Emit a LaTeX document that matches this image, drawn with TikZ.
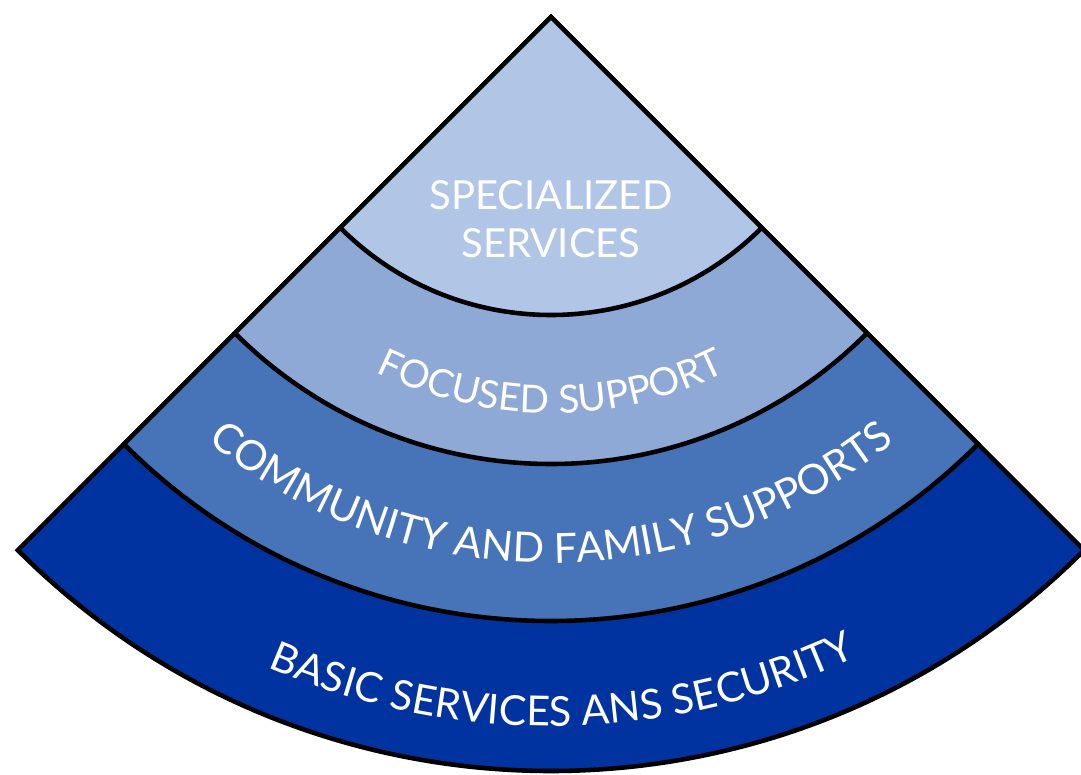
\documentclass[tikz,border=0pt]{standalone}
\usepackage{fontspec}
\setmainfont{Lato}
\usetikzlibrary{decorations.text}
\definecolor{bandspec}{HTML}{B1C5E6}
\definecolor{bandfocus}{HTML}{8EA9D6}
\definecolor{bandcomm}{HTML}{4774B9}
\definecolor{bandbasic}{HTML}{0033A0}
\tikzset{band/.style={draw=black,line width=2.6pt,line join=miter},
arclabel/.style={decorate,decoration={text along path,text align=center,text color=white}}}

\begin{document}
\begin{tikzpicture}[x=.02cm,y=.02cm]
\useasboundingbox (-551,-757) rectangle (530,17);
% nested sectors, largest first
\foreach \r/\col in {754/bandbasic,604/bandcomm,447/bandfocus,298/bandspec} {
\filldraw[band,fill=\col] (0,0)--(225:\r) arc[start angle=225,end angle=315,radius=\r]--cycle;}
\node[align=center,text=white,font=\fontsize{22.8}{27}\selectfont] (spec) at (0,-202) {SPECIALIZED\\SERVICES};
\path[arclabel,decoration={text={|\fontsize{22}{26}\selectfont|FOCUSED SUPPORT}}] (225:396) arc[start angle=225,end angle=315,radius=396];
\path[arclabel,decoration={text={|\fontsize{23.6}{28}\selectfont|COMMUNITY AND FAMILY SUPPORTS}}] (225:546) arc[start angle=225,end angle=315,radius=546];
\path[arclabel,decoration={text={|\fontsize{23.5}{28}\selectfont|BASIC SERVICES ANS SECURITY}}] (226:709) arc[start angle=226,end angle=316,radius=709];
\end{tikzpicture}
\end{document}
